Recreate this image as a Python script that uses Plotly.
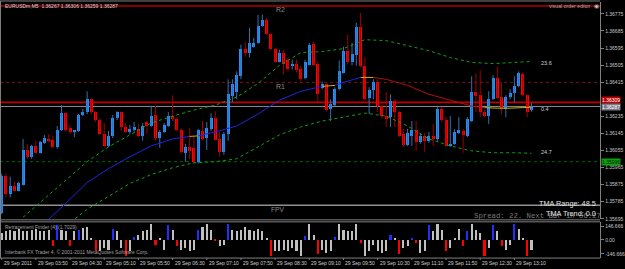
import plotly.graph_objects as go

# ---------------- data ----------------
title_text = "EURUSDm,M5  1.36267 1.36306 1.36259 1.36287"

opens = [1.35724,1.35923,1.35828,1.35870,1.35844,1.35875,1.36058,1.36022,1.36079,1.36043,
         1.36095,1.36116,1.36111,1.36074,1.36163,1.36252,1.36173,1.36153,1.36158,1.36242,
         1.36257,1.36325,1.36257,1.36215,1.36142,1.36079,1.36132,1.36226,1.36257,1.36179,
         1.36153,1.36163,1.36168,1.36132,1.36205,1.36184,1.36242,1.36121,1.36153,1.36184,
         1.36236,1.36221,1.36163,1.36043,1.36074,1.36069,1.35996,1.36158,1.36121,1.36168,
         1.36226,1.36116,1.36048,1.36142,1.36341,1.36362,1.36446,1.36592,1.36571,1.36602,
         1.36623,1.36712,1.36744,1.36670,1.36592,1.36524,1.36571,1.36534,1.36498,1.36513,
         1.36482,1.36435,1.36508,1.36618,1.36513,1.36383,1.36404,1.36273,1.36294,1.36378,
         1.36466,1.36581,1.36524,1.36561,1.36707,1.36498,1.36330,1.36372,1.36414,1.36289,
         1.36236,1.36231,1.36315,1.36257,1.36142,1.36085,1.36132,1.36163,1.36100,1.36132,
         1.36106,1.36132,1.36116,1.36273,1.36215,1.36079,1.36090,1.36147,1.36158,1.36132,
         1.36210,1.36362,1.36346,1.36257,1.36236,1.36325,1.36435,1.36336,1.36273,1.36336,
         1.36357,1.36393,1.36456,1.36346,1.36267]
highs = [1.35933,1.35933,1.35917,1.35891,1.35891,1.36116,1.36090,1.36085,1.36106,1.36106,
         1.36137,1.36142,1.36132,1.36184,1.36294,1.36257,1.36189,1.36163,1.36247,1.36273,
         1.36367,1.36330,1.36262,1.36226,1.36200,1.36158,1.36242,1.36262,1.36262,1.36200,
         1.36189,1.36205,1.36194,1.36200,1.36210,1.36289,1.36289,1.36163,1.36200,1.36257,
         1.36346,1.36231,1.36173,1.36090,1.36173,1.36126,1.36168,1.36210,1.36205,1.36252,
         1.36262,1.36153,1.36153,1.36430,1.36430,1.36472,1.36613,1.36629,1.36702,1.36649,
         1.36770,1.36770,1.36754,1.36676,1.36597,1.36587,1.36587,1.36545,1.36534,1.36534,
         1.36503,1.36534,1.36623,1.36629,1.36524,1.36419,1.36409,1.36325,1.36388,1.36529,
         1.36602,1.36665,1.36623,1.36728,1.36780,1.36545,1.36388,1.36430,1.36430,1.36304,
         1.36362,1.36351,1.36325,1.36262,1.36168,1.36168,1.36210,1.36210,1.36147,1.36147,
         1.36153,1.36194,1.36283,1.36283,1.36231,1.36236,1.36168,1.36231,1.36168,1.36231,
         1.36446,1.36461,1.36477,1.36268,1.36367,1.36451,1.36498,1.36414,1.36346,1.36378,
         1.36446,1.36472,1.36466,1.36351,1.36306]
lows = [1.35719,1.35807,1.35807,1.35839,1.35839,1.35870,1.36011,1.36011,1.36038,1.36038,
        1.36090,1.36100,1.36069,1.36064,1.36158,1.36153,1.36142,1.36126,1.36153,1.36236,
        1.36247,1.36247,1.36205,1.36137,1.36074,1.36074,1.36121,1.36215,1.36158,1.36147,
        1.36142,1.36153,1.36126,1.36106,1.36142,1.36179,1.36106,1.36069,1.36147,1.36179,
        1.36210,1.36158,1.36038,1.35996,1.36011,1.35985,1.35985,1.36111,1.36058,1.36158,
        1.36106,1.36022,1.36032,1.36106,1.36310,1.36325,1.36430,1.36550,1.36545,1.36597,
        1.36618,1.36707,1.36665,1.36587,1.36519,1.36519,1.36456,1.36472,1.36482,1.36466,
        1.36419,1.36430,1.36503,1.36503,1.36310,1.36378,1.36262,1.36210,1.36289,1.36372,
        1.36461,1.36508,1.36503,1.36503,1.36493,1.36320,1.36247,1.36325,1.36257,1.36221,
        1.36179,1.36179,1.36179,1.36126,1.36074,1.36079,1.36079,1.36053,1.36090,1.36048,
        1.36095,1.36079,1.36106,1.36205,1.36074,1.36074,1.36085,1.36142,1.36043,1.36126,
        1.36205,1.36257,1.36231,1.36231,1.36194,1.36320,1.36325,1.36247,1.36231,1.36325,
        1.36310,1.36388,1.36341,1.36231,1.36259]
closes = [1.35923,1.35828,1.35870,1.35844,1.35881,1.36058,1.36022,1.36079,1.36043,1.36100,
          1.36121,1.36106,1.36074,1.36163,1.36252,1.36163,1.36153,1.36158,1.36242,1.36257,
          1.36325,1.36257,1.36215,1.36142,1.36079,1.36132,1.36226,1.36257,1.36179,1.36153,
          1.36168,1.36179,1.36132,1.36184,1.36184,1.36236,1.36121,1.36153,1.36189,1.36236,
          1.36221,1.36163,1.36048,1.36074,1.36053,1.35996,1.36163,1.36116,1.36173,1.36226,
          1.36111,1.36048,1.36142,1.36351,1.36404,1.36451,1.36592,1.36571,1.36623,1.36623,
          1.36712,1.36744,1.36670,1.36592,1.36524,1.36571,1.36513,1.36482,1.36513,1.36477,
          1.36430,1.36519,1.36613,1.36508,1.36351,1.36404,1.36268,1.36299,1.36378,1.36472,
          1.36581,1.36519,1.36566,1.36707,1.36498,1.36325,1.36372,1.36414,1.36289,1.36236,
          1.36226,1.36315,1.36257,1.36132,1.36085,1.36147,1.36163,1.36100,1.36132,1.36106,
          1.36132,1.36116,1.36273,1.36215,1.36079,1.36090,1.36153,1.36163,1.36137,1.36221,
          1.36362,1.36341,1.36257,1.36236,1.36325,1.36435,1.36330,1.36273,1.36336,1.36357,
          1.36393,1.36461,1.36346,1.36257,1.36287]

# TMA bands (bar index, price)
upper_idx = [5, 10, 15, 20, 25, 30, 35, 40, 45, 50, 55, 60, 65, 70, 75, 80, 85, 90, 95, 100, 105, 110, 115, 120, 124]
upper_vals = [1.35703, 1.35802, 1.35896, 1.35996, 1.36074, 1.36137, 1.36200, 1.36236, 1.36268, 1.36294,
              1.36336, 1.36409, 1.36503, 1.36571, 1.36576, 1.36592, 1.36639, 1.36634, 1.36608, 1.36581,
              1.36545, 1.36519, 1.36513, 1.36519, 1.36524]
lower_idx = [15, 20, 25, 30, 35, 40, 45, 50, 55, 60, 65, 70, 75, 80, 85, 90, 95, 100, 105, 110, 115, 120, 124]
lower_vals = [1.35656, 1.35745, 1.35813, 1.35881, 1.35928, 1.35964, 1.35990, 1.35996, 1.36011, 1.36074,
              1.36137, 1.36179, 1.36210, 1.36231, 1.36252, 1.36236, 1.36184, 1.36116, 1.36079, 1.36053,
              1.36043, 1.36043, 1.36040]
tma_idx = [10, 15, 20, 25, 30, 35, 40, 44, 46, 50, 55, 60, 65, 70, 75, 78, 80, 84, 87, 90, 95, 100, 105, 110, 113, 116, 119, 122, 124]
tma_vals = [1.35671, 1.35776, 1.35886, 1.35959, 1.36022, 1.36079, 1.36116, 1.36129, 1.36132, 1.36153,
            1.36184, 1.36247, 1.36320, 1.36367, 1.36393, 1.36398, 1.36414, 1.36440, 1.36440, 1.36430,
            1.36398, 1.36351, 1.36320, 1.36289, 1.36281, 1.36278, 1.36278, 1.36281, 1.36283]

# Retracement finder histogram: value and signal (b = up turn, r = down turn, g = continuation)
hist_vals = [70, 88, 105, 88, 115, 88, 88, 105, 115, 88,
             88, 105, -63, 158, 105, 88, -70, 88, 105, 122,
             133, 18, -122, -122, -87, -105, 112, 88, -87, -175,
             -122, 25, 52, 88, 105, 165, -59, 11, -105, 158,
             105, -70, -105, -87, -122, -105, 98, 133, 165, 105,
             -17, -70, -52, 165, 105, 88, 105, 133, 105, 88,
             115, 88, 18, -175, -122, -122, -105, -122, -87, -122,
             -170, 35, 165, 46, -150, -105, -140, -122, 25, 165,
             105, 88, 88, 165, -35, -175, -122, -52, -122, -140,
             -122, 46, 11, -157, -87, -70, 11, -35, -140, -122,
             151, 88, 165, 105, -122, -87, 11, 115, -70, 88,
             165, 105, 70, -175, -87, 151, 88, -70, -105, -52,
             165, 115, 18, -175, -105]
hist_sig = ['g','g','g','g','g','g','g','g','g','g',
            'g','g','r','b','g','g','r','g','b','g',
            'g','g','r','g','g','g','b','g','g','r',
            'g','b','g','g','g','g','r','g','g','b',
            'g','r','g','g','g','g','b','g','g','g',
            'r','g','g','b','g','g','g','g','g','g',
            'g','g','g','r','g','g','g','g','g','g',
            'g','b','g','g','r','g','g','g','b','g',
            'g','g','g','g','r','g','g','g','g','g',
            'g','b','g','r','g','g','b','r','g','g',
            'b','g','g','g','r','g','g','g','r','b',
            'g','g','g','r','g','b','g','r','g','g',
            'b','g','g','r','g']

time_label_bars = [0, 8, 16, 24, 32, 40, 48, 56, 64, 72, 80, 88, 96, 104, 112, 120]
time_labels = ["29 Sep 2011", "29 Sep 03:50", "29 Sep 04:30", "29 Sep 05:10", "29 Sep 05:50",
               "29 Sep 06:30", "29 Sep 07:10", "29 Sep 07:50", "29 Sep 08:30", "29 Sep 09:10",
               "29 Sep 09:50", "29 Sep 10:30", "29 Sep 11:10", "29 Sep 11:50", "29 Sep 12:30",
               "29 Sep 13:10"]

price_ticks = [1.36775, 1.36685, 1.36595, 1.36505, 1.36415, 1.36235, 1.36145, 1.36055,
               1.35965, 1.35875, 1.35785, 1.35695]
osc_ticks = [146.666, 0.0, -146.666]
osc_tick_text = ["146.666", "0.00", "-146.666"]

r2_level = 1.36817
r1_level = 1.36414
ask_price = 1.36309
bid_price = 1.36287
green_level = 1.35996
fpv_level = 1.35766
upper_dist, center_dist, lower_dist = "23.6", "0.4", "24.7"
tma_range_text = "TMA Range: 48.5"
tma_trend_text = "TMA Trend: 0.0"
spread_text = "Spread: 22. Next Bar in 06:27"
rf_text = "Retracement Finder (4) (1.7029)"
copyright_text = "Interbank FX Trader 4, \u00a9 2001-2011 MetaQuotes Software Corp."

# ---------------- geometry ----------------
W, H = 625, 269
PLOT_R = 604
MAIN_TOP, MAIN_BOT = 2, 221
SUB_TOP, SUB_BOT = 224, 260
BAR_PX, FIRST_PX = 4.3, 1.7
xr0 = -FIRST_PX / BAR_PX
xr1 = xr0 + PLOT_R / BAR_PX
PX_REF, P_REF, P_PER_PX = 14, 1.36775, 0.0009 / 17.2
y_top = P_REF + (PX_REF - MAIN_TOP) * P_PER_PX
y_bot = P_REF - (MAIN_BOT - PX_REF) * P_PER_PX
OSC_ZERO_PX, OSC_PER_PX = 241.7, 146.666 / 14
o_top = (OSC_ZERO_PX - SUB_TOP) * OSC_PER_PX
o_bot = -(SUB_BOT - OSC_ZERO_PX) * OSC_PER_PX

def pxx(v):
    return v / W

def pxy(v):
    return 1 - v / H

FONT = "Liberation Sans"
MONO = "Liberation Mono"
GRID = "#808080"

bars = list(range(len(opens)))
fig = go.Figure()

# wicks
def wick_xy(idx):
    xs, ys = [], []
    for i in idx:
        xs += [i, i, None]
        ys += [lows[i], highs[i], None]
    return xs, ys

bull = [i for i in bars if closes[i] >= opens[i]]
bear = [i for i in bars if closes[i] < opens[i]]
for idx, col in ((bull, "#3470b0"), (bear, "#a00000")):
    xs, ys = wick_xy(idx)
    fig.add_trace(go.Scatter(x=xs, y=ys, mode="lines", line=dict(color=col, width=1),
                             hoverinfo="skip", xaxis="x", yaxis="y"))

# bodies
fig.add_trace(go.Bar(
    x=bars,
    base=[min(o, c) for o, c in zip(opens, closes)],
    y=[max(abs(c - o), 0.00002) for o, c in zip(opens, closes)],
    width=0.7,
    marker=dict(color=["#1e90ff" if c >= o else "#ff0000" for o, c in zip(opens, closes)],
                line=dict(width=0)),
    hoverinfo="skip", xaxis="x", yaxis="y"))

# bands
for xi, yv in ((upper_idx, upper_vals), (lower_idx, lower_vals)):
    fig.add_trace(go.Scatter(x=xi, y=yv, mode="lines",
                             line=dict(color="#12a012", width=1, dash="dot"),
                             hoverinfo="skip", xaxis="x", yaxis="y"))

# TMA centre line coloured by slope
seg = {"up": ([], []), "down": ([], []), "flat": ([], [])}
for j in range(len(tma_idx) - 1):
    slope = (tma_vals[j + 1] - tma_vals[j]) / (tma_idx[j + 1] - tma_idx[j])
    k = "up" if slope > 0.000018 else ("down" if slope < -0.000018 else "flat")
    seg[k][0].extend([tma_idx[j], tma_idx[j + 1], None])
    seg[k][1].extend([tma_vals[j], tma_vals[j + 1], None])
for k, col in (("up", "#2222dd"), ("down", "#b01010"), ("flat", "#d0b000")):
    fig.add_trace(go.Scatter(x=seg[k][0], y=seg[k][1], mode="lines",
                             line=dict(color=col, width=1), hoverinfo="skip",
                             xaxis="x", yaxis="y"))

# histogram
sig_col = {"g": "#c0c0c0", "b": "#1f2fff", "r": "#ff0000"}
fig.add_trace(go.Bar(x=bars, y=hist_vals, width=0.48,
                     marker=dict(color=[sig_col[s] for s in hist_sig], line=dict(width=0)),
                     hoverinfo="skip", xaxis="x2", yaxis="y2"))

shapes = []
def hline(price, color, width, dash="solid"):
    shapes.append(dict(type="line", xref="paper", x0=0, x1=pxx(PLOT_R), yref="y",
                       y0=price, y1=price, line=dict(color=color, width=width, dash=dash),
                       layer="below"))

hline(r2_level, "#b00000", 1.5)
hline(r1_level, "#801010", 1, "dot")
hline(green_level, "#006400", 1, "dot")
hline(fpv_level, "#909090", 1.5)
hline(ask_price, "#c00000", 1.8)
hline(bid_price, "#8a8a9a", 1)

# frame lines
def pline(x0, y0, x1, y1, color=GRID, width=1):
    shapes.append(dict(type="line", xref="paper", yref="paper", x0=pxx(x0), x1=pxx(x1),
                       y0=pxy(y0), y1=pxy(y1), line=dict(color=color, width=width)))

pline(0, 1, PLOT_R, 1)
pline(0.5, 1, 0.5, SUB_BOT)
pline(0, 221.5, PLOT_R, 221.5)
pline(0, 223.5, PLOT_R, 223.5)
pline(0, SUB_BOT, PLOT_R, SUB_BOT)

ann = []
def text(x, y, s, size, color, xanchor="left", font=FONT, yref="paper", bg=None, yshift=0):
    d = dict(x=pxx(x), y=pxy(y) if yref == "paper" else y,
             xref="paper", yref=yref, text=s, showarrow=False, xanchor=xanchor, yanchor="middle",
             font=dict(family=font, size=size, color=color), yshift=yshift)
    if bg:
        d.update(bgcolor=bg, borderpad=0)
    ann.append(d)

text(3, 6, title_text, 5, "#d8d8d8")
text(597, 6, "visual order editor", 5.2, "#b8a0a0", xanchor="right")
text(600, 6, "\u25c9", 6, "#c0c0c0", xanchor="center")
text(282, 10, "R2", 7, "#8c8c8c", xanchor="center")
text(282, 87, "R1", 7, "#8c8c8c", xanchor="center")
text(280, 211, "FPV", 6.7, "#8c8c8c", xanchor="center")
text(542, upper_vals[-1] - 0.00006, upper_dist, 5.5, "#d0d0d0", yref="y")
text(542, tma_vals[-1] - 0.00008, center_dist, 5.5, "#d0d0d0", yref="y")
text(542, lower_vals[-1] + 0.00008, lower_dist, 5.5, "#d0d0d0", yref="y")
text(475, 218, spread_text, 7.3, "#7a7a7a", font=MONO)
text(602, 205.5, tma_range_text, 7.3, "#e8e8e8", xanchor="right")
text(602, 215, tma_trend_text, 7.3, "#e8e8e8", xanchor="right")
text(3, 229, rf_text, 5, "#a0a0a0")
text(3, 254, copyright_text, 5, "#a0a0a0")

# price labels on the axis (ask label sits just above the bid label, as in MT4)
text(605, ask_price, f"{ask_price:.5f}", 5, "#ffffff", yref="y", bg="#c00000", yshift=2)
text(605, bid_price, f"{bid_price:.5f}", 5, "#ffffff", yref="y", bg="#7a7a8a", yshift=-1)
text(605, green_level, f"{green_level:.5f}", 5, "#002000", yref="y", bg="#10a010")

for b, s in zip(time_label_bars, time_labels):
    ann.append(dict(x=b, y=pxy(265), xref="x", yref="paper", text=s, showarrow=False,
                    xanchor="left", yanchor="middle", font=dict(family=FONT, size=5, color="#d0d0d0")))
    shapes.append(dict(type="line", xref="x", yref="paper", x0=b, x1=b,
                       y0=pxy(SUB_BOT), y1=pxy(SUB_BOT + 2), line=dict(color=GRID, width=1)))

axis_common = dict(showgrid=False, zeroline=False)
fig.update_layout(
    width=W, height=H, margin=dict(l=0, r=0, t=0, b=0),
    paper_bgcolor="#000000", plot_bgcolor="#000000",
    showlegend=False, barmode="overlay", bargap=0,
    xaxis=dict(domain=[0, pxx(PLOT_R)], range=[xr0, xr1], showticklabels=False,
               anchor="y", **axis_common),
    xaxis2=dict(domain=[0, pxx(PLOT_R)], range=[xr0, xr1], showticklabels=False,
                anchor="y2", **axis_common),
    yaxis=dict(domain=[pxy(MAIN_BOT), pxy(MAIN_TOP)], range=[y_bot, y_top], side="right",
               anchor="x", tickvals=price_ticks, ticktext=[f"{p:.5f}" for p in price_ticks],
               tickfont=dict(family=FONT, size=5, color="#c8c8c8"), ticks="outside",
               ticklen=3, tickcolor=GRID, showline=True, linecolor=GRID, linewidth=1,
               **axis_common),
    yaxis2=dict(domain=[pxy(SUB_BOT), pxy(SUB_TOP)], range=[o_bot, o_top], side="right",
                anchor="x2", tickvals=osc_ticks, ticktext=osc_tick_text,
                tickfont=dict(family=FONT, size=5, color="#c8c8c8"), ticks="outside",
                ticklen=3, tickcolor=GRID, showline=True, linecolor=GRID, linewidth=1,
                **axis_common),
    shapes=shapes, annotations=ann,
)

fig.write_html("out.html")
